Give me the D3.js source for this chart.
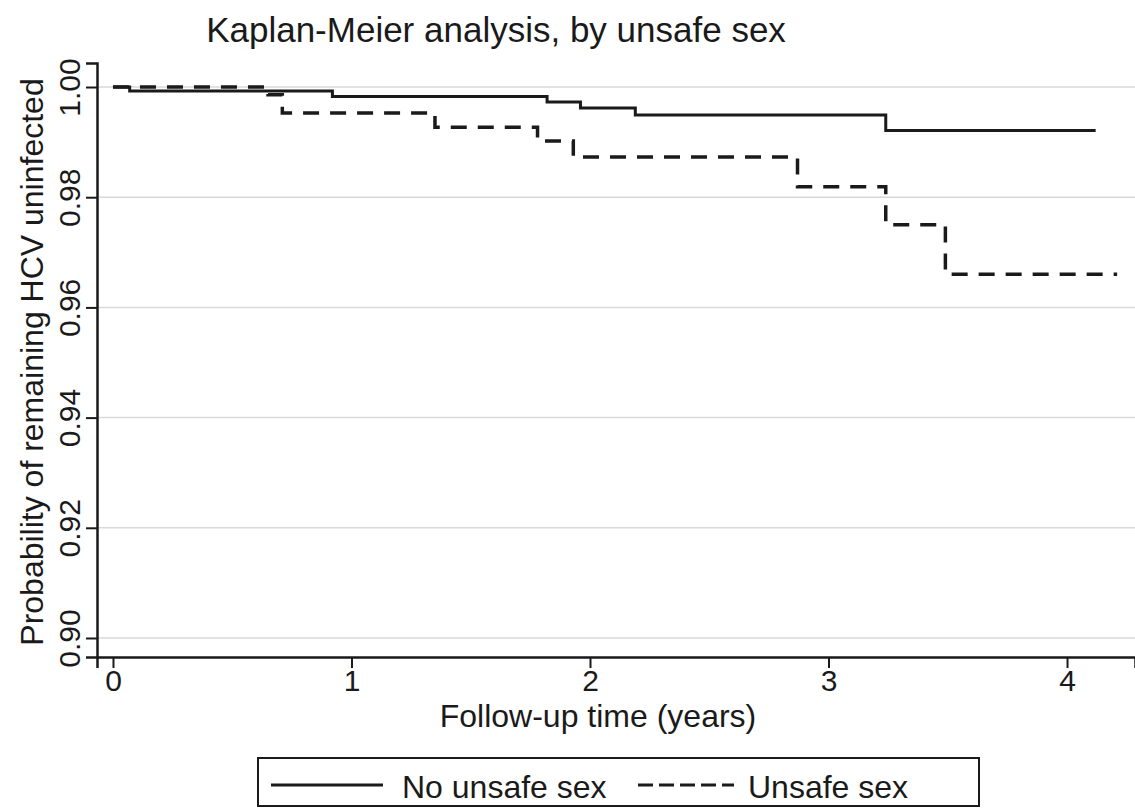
<!DOCTYPE html>
<html>
<head>
<meta charset="utf-8">
<script src="https://cdn.jsdelivr.net/npm/d3@7"></script>
<style>
  body { margin: 0; background: #fff; }
  svg { font-family: "Liberation Sans", Arial, sans-serif; }
</style>
</head>
<body>
<div id="chart"></div>
<script>
// Kaplan-Meier step data
const noUnsafeTime = [0, 0.07, 0.92, 1.82, 1.96, 2.19, 3.24, 4.12];
const noUnsafeSurv = [1.000, 0.9993, 0.9983, 0.9973, 0.9962, 0.9949, 0.9921, 0.9921];

const unsafeTime = [0, 0.65, 0.71, 1.35, 1.78, 1.93, 2.87, 3.24, 3.49, 4.21];
const unsafeSurv = [1.000, 0.9986, 0.9953, 0.9927, 0.9902, 0.9873, 0.9819, 0.9750, 0.9660, 0.9660];

const xTicks = [0, 1, 2, 3, 4];
const yTicks = [0.90, 0.92, 0.94, 0.96, 0.98, 1.00];
const seriesNames = ["No unsafe sex", "Unsafe sex"];

// Dimensions
const width = 1135;
const height = 808;
const plot = { left: 97, right: 1135, top: 63, bottom: 657 };
const ink = "#1a1a1a";

const svg = d3.select("#chart")
  .append("svg")
  .attr("width", width)
  .attr("height", height);

// Scales
const x = d3.scaleLinear()
  .domain([-0.067, 4.285])
  .range([plot.left, plot.right]);

const y = d3.scaleLinear()
  .domain([0.89655, 1.00436])
  .range([plot.bottom, plot.top]);

// Gridlines
svg.append("g")
  .selectAll("line")
  .data(yTicks)
  .join("line")
  .attr("x1", plot.left)
  .attr("x2", plot.right)
  .attr("y1", d => y(d))
  .attr("y2", d => y(d))
  .attr("stroke", "#d9d9d9")
  .attr("stroke-width", 1.5);

// Y axis
const yAxis = svg.append("g")
  .attr("transform", `translate(${plot.left},0)`)
  .call(d3.axisLeft(y).tickValues(yTicks).tickFormat(d3.format(".2f")).tickSize(11).tickPadding(4));
yAxis.select(".domain").attr("stroke", ink).attr("stroke-width", 2.5);
yAxis.selectAll(".tick line").attr("stroke", ink).attr("stroke-width", 2);
yAxis.selectAll(".tick text")
  .attr("x", null).attr("dy", null)
  .attr("transform", "translate(-17,0) rotate(-90)")
  .attr("text-anchor", "middle")
  .attr("fill", ink)
  .style("font-size", "30px");

// X axis
const xAxis = svg.append("g")
  .attr("transform", `translate(0,${plot.bottom})`)
  .call(d3.axisBottom(x).tickValues(xTicks).tickFormat(d3.format("d")).tickSize(11).tickPadding(2));
xAxis.select(".domain").attr("stroke", ink).attr("stroke-width", 2.5);
xAxis.selectAll(".tick line").attr("stroke", ink).attr("stroke-width", 2);
xAxis.selectAll(".tick text")
  .attr("fill", ink)
  .style("font-size", "30px");

// Survival curves
const line = d3.line()
  .x(d => x(d[0]))
  .y(d => y(d[1]))
  .curve(d3.curveStepAfter);

svg.append("path")
  .datum(d3.zip(noUnsafeTime, noUnsafeSurv))
  .attr("d", line)
  .attr("fill", "none")
  .attr("stroke", ink)
  .attr("stroke-width", 3);

svg.append("path")
  .datum(d3.zip(unsafeTime, unsafeSurv))
  .attr("d", line)
  .attr("fill", "none")
  .attr("stroke", ink)
  .attr("stroke-width", 3.5)
  .attr("stroke-dasharray", "16,11");

// Title
svg.append("text")
  .attr("x", 496)
  .attr("y", 42)
  .attr("text-anchor", "middle")
  .attr("fill", ink)
  .style("font-size", "35px")
  .text("Kaplan-Meier analysis, by unsafe sex");

// Axis titles
svg.append("text")
  .attr("x", 598)
  .attr("y", 727)
  .attr("text-anchor", "middle")
  .attr("fill", ink)
  .style("font-size", "32px")
  .text("Follow-up time (years)");

svg.append("text")
  .attr("transform", "translate(43,362) rotate(-90)")
  .attr("text-anchor", "middle")
  .attr("fill", ink)
  .style("font-size", "32px")
  .text("Probability of remaining HCV uninfected");

// Legend
const legend = svg.append("g");
legend.append("rect")
  .attr("x", 258)
  .attr("y", 758)
  .attr("width", 721)
  .attr("height", 48)
  .attr("fill", "#fff")
  .attr("stroke", ink)
  .attr("stroke-width", 2);

const legendItems = [
  { name: seriesNames[0], x1: 271, x2: 383, tx: 402, dash: null },
  { name: seriesNames[1], x1: 638, x2: 734, tx: 748, dash: "15,6" }
];

legend.selectAll("line")
  .data(legendItems)
  .join("line")
  .attr("x1", d => d.x1)
  .attr("x2", d => d.x2)
  .attr("y1", 785)
  .attr("y2", 785)
  .attr("stroke", ink)
  .attr("stroke-width", 3)
  .attr("stroke-dasharray", d => d.dash);

legend.selectAll("text")
  .data(legendItems)
  .join("text")
  .attr("x", d => d.tx)
  .attr("y", 798)
  .attr("fill", ink)
  .style("font-size", "32px")
  .text(d => d.name);
</script>
</body>
</html>
